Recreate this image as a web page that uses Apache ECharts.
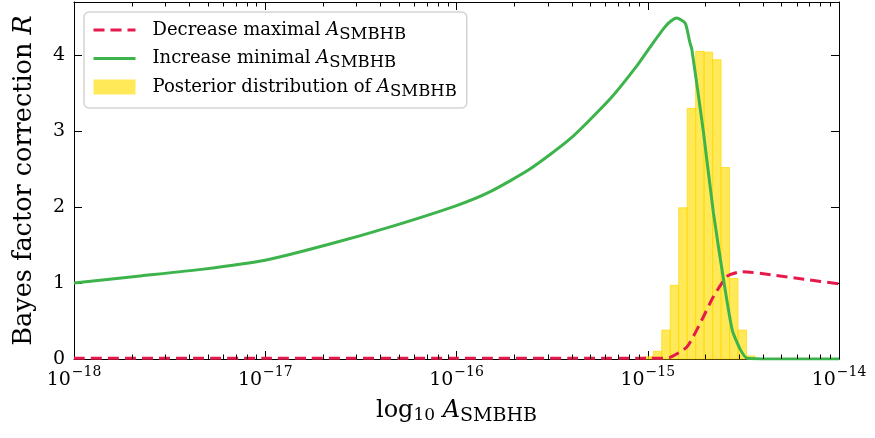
<!DOCTYPE html>
<html>
<head>
<meta charset="utf-8">
<script src="https://cdn.jsdelivr.net/npm/echarts@6/dist/echarts.min.js"></script>
<style>html,body{margin:0;padding:0;background:#fff}#c{width:875px;height:438px}</style>
</head>
<body>
<div id="c"></div>
<script>
// x values are log10(A_SMBHB)
const xTickVals = [-18, -17, -16, -15, -14];
const xTickLabels = ['−18', '−17', '−16', '−15', '−14'];
const yTickVals = [0, 1, 2, 3, 4];

const greenX = [-18.0, -17.667, -17.333, -17.0, -16.667, -16.333, -16.0, -15.826, -15.616, -15.405, -15.195, -15.054, -14.984, -14.914, -14.879, -14.849, -14.804, -14.781, -14.769, -14.709, -14.657, -14.604, -14.558, -14.515, -14.479, -14.3, -14.0];
const greenY = [1.0, 1.09, 1.18, 1.30, 1.51, 1.75, 2.02, 2.20, 2.50, 2.90, 3.43, 3.87, 4.12, 4.36, 4.45, 4.49, 4.42, 4.18, 4.07, 2.99, 1.93, 1.05, 0.38, 0.12, 0.01, 0.0, 0.0];

const redX = [-18.0, -17.0, -16.0, -15.2, -14.984, -14.93, -14.883, -14.795, -14.716, -14.657, -14.584, -14.51, -14.357, -14.183, -14.0];
const redY = [0.01, 0.01, 0.01, 0.01, 0.01, 0.01, 0.02, 0.16, 0.52, 0.82, 1.09, 1.15, 1.11, 1.05, 0.99];

const binEdges = [-15.0153, -14.971, -14.9267, -14.8824, -14.8381, -14.7938, -14.7495, -14.7052, -14.6609, -14.6166, -14.5723, -14.528, -14.4837, -14.4394];
const binHeights = [0.03, 0.10, 0.38, 0.97, 1.99, 3.30, 4.05, 4.04, 3.94, 2.52, 1.06, 0.38, 0.04];

const minorTicks = [];
for (let d = -18; d < -14; d++) for (let k = 2; k <= 9; k++) minorTicks.push(d + Math.log10(k));

const FONT = 'DejaVu Serif';
const RED = '#e6194B', GREEN = '#3cb44b', YELLOW = 'rgba(255,225,25,0.72)';
const nameDec = 'Decrease maximal A_SMBHB';
const nameInc = 'Increase minimal A_SMBHB';
const namePost = 'Posterior distribution of A_SMBHB';
const legendPrefix = {};
legendPrefix[nameDec] = 'Decrease maximal ';
legendPrefix[nameInc] = 'Increase minimal ';
legendPrefix[namePost] = 'Posterior distribution of ';

const histData = binHeights.map((h, i) => [binEdges[i], binEdges[i + 1], h]);

const chart = echarts.init(document.getElementById('c'), null, {renderer: 'canvas'});
const tickMap = {};
xTickVals.forEach((v, i) => tickMap[v] = xTickLabels[i]);

const option = {
  animation: false,
  backgroundColor: '#fff',
  textStyle: {fontFamily: FONT, color: '#000'},
  grid: {left: 74, right: 36, top: 2, bottom: 79, containLabel: false},
  legend: {
    orient: 'vertical', left: 84, top: 12,
    padding: [9, 10, 8, 8],
    itemGap: 6.5, itemWidth: 42, itemHeight: 15,
    backgroundColor: 'rgba(255,255,255,0.85)',
    borderColor: '#d4d4d4', borderWidth: 1.5, borderRadius: 5,
    data: [
      {name: nameDec, itemStyle: {opacity: 0}, lineStyle: {width: 3, type: [11, 6], color: RED}},
      {name: nameInc, itemStyle: {opacity: 0}, lineStyle: {width: 3, color: GREEN}},
      {name: namePost, icon: 'rect', itemStyle: {color: YELLOW}}
    ],
    formatter: n => '{t|' + legendPrefix[n] + '}{i|A}{s|SMBHB}',
    textStyle: {
      fontFamily: FONT, fontSize: 18, color: '#000',
      rich: {
        t: {fontFamily: FONT, fontSize: 18, padding: [0, 0, 0, 12]},
        i: {fontFamily: FONT, fontSize: 18, fontStyle: 'italic'},
        s: {fontFamily: FONT, fontSize: 16.5, verticalAlign: 'top', padding: [9, 0, 0, 0]}
      }
    }
  },
  xAxis: [{
    type: 'value', min: -18, max: -14, interval: 1,
    position: 'bottom',
    name: '{r|log}{sb|10} {i|A}{s|SMBHB}',
    nameLocation: 'middle', nameGap: 36,
    nameTextStyle: {
      fontFamily: FONT, fontSize: 24, color: '#000',
      rich: {
        r: {fontFamily: FONT, fontSize: 24},
        sb: {fontFamily: FONT, fontSize: 17, verticalAlign: 'top', padding: [12, 0, 0, 0]},
        i: {fontFamily: FONT, fontSize: 24, fontStyle: 'italic'},
        s: {fontFamily: FONT, fontSize: 19, verticalAlign: 'top', padding: [12, 0, 0, 0]}
      }
    },
    axisLine: {show: true, onZero: false, lineStyle: {color: '#000', width: 1}},
    axisTick: {show: true, inside: true, length: 8, lineStyle: {color: '#000'}},
    splitLine: {show: false},
    axisLabel: {
      margin: 6, color: '#000',
      formatter: v => '{b|10}{e|' + tickMap[v] + '}',
      rich: {
        b: {fontFamily: FONT, fontSize: 19, padding: [6, 0, 0, 0]},
        e: {fontFamily: FONT, fontSize: 14, verticalAlign: 'top', padding: [0, 0, 0, 1]}
      }
    }
  }, {
    type: 'value', min: -18, max: -14, interval: 1,
    position: 'top',
    axisLine: {show: true, onZero: false, lineStyle: {color: '#000', width: 1}},
    axisTick: {show: true, inside: true, length: 8, lineStyle: {color: '#000'}},
    axisLabel: {show: false}, splitLine: {show: false}
  }],
  yAxis: [{
    type: 'value', min: 0, max: 4.7, interval: 1,
    position: 'left',
    name: 'Bayes factor correction {i|R}',
    nameLocation: 'middle', nameRotate: 90, nameGap: 37,
    nameTextStyle: {
      fontFamily: FONT, fontSize: 25.5, color: '#000',
      rich: {i: {fontFamily: FONT, fontSize: 25.5, fontStyle: 'italic'}}
    },
    axisLine: {show: true, onZero: false, lineStyle: {color: '#000', width: 1}},
    axisTick: {show: true, inside: true, length: 8, lineStyle: {color: '#000'}},
    splitLine: {show: false},
    axisLabel: {margin: 9, fontFamily: FONT, fontSize: 19, color: '#000', showMaxLabel: false,
      formatter: v => (yTickVals.indexOf(v) >= 0 ? String(v) : '')}
  }, {
    type: 'value', min: 0, max: 4.7, interval: 1,
    position: 'right',
    axisLine: {show: true, onZero: false, lineStyle: {color: '#000', width: 1}},
    axisTick: {show: true, inside: true, length: 8, lineStyle: {color: '#000'}},
    axisLabel: {show: false}, splitLine: {show: false}
  }],
  series: [{
    name: namePost,
    type: 'custom',
    xAxisIndex: 0, yAxisIndex: 0,
    itemStyle: {color: YELLOW},
    data: histData,
    encode: {x: [0, 1], y: 2},
    renderItem: (params, api) => {
      const p0 = api.coord([api.value(0), api.value(2)]);
      const p1 = api.coord([api.value(1), 0]);
      return {
        type: 'rect',
        shape: {x: p0[0], y: p0[1], width: p1[0] - p0[0], height: p1[1] - p0[1]},
        style: {fill: YELLOW, stroke: 'rgba(255,215,0,0.7)', lineWidth: 1}
      };
    },
    z: 1
  }, {
    name: nameDec,
    type: 'line',
    xAxisIndex: 0, yAxisIndex: 0,
    data: redX.map((x, i) => [x, redY[i]]),
    showSymbol: false, symbol: 'none',
    smooth: 0.2,
    color: RED,
    lineStyle: {color: RED, width: 3, type: [11, 6]},
    z: 3
  }, {
    name: nameInc,
    type: 'line',
    xAxisIndex: 0, yAxisIndex: 0,
    data: greenX.map((x, i) => [x, greenY[i]]),
    showSymbol: false, symbol: 'none',
    smooth: 0.2,
    color: GREEN,
    lineStyle: {color: GREEN, width: 3},
    z: 4
  }, {
    name: 'minorTicks',
    type: 'custom',
    xAxisIndex: 0, yAxisIndex: 0,
    silent: true,
    data: minorTicks.map(v => [v, 0]),
    encode: {x: 0, y: 1},
    renderItem: (params, api) => {
      const p = api.coord([api.value(0), 0]);
      const cs = params.coordSys;
      const x = Math.round(p[0]) + 0.5;
      return {
        type: 'group',
        children: [
          {type: 'line', shape: {x1: x, y1: cs.y + cs.height, x2: x, y2: cs.y + cs.height - 4.5}, style: {stroke: '#000', lineWidth: 1}},
          {type: 'line', shape: {x1: x, y1: cs.y, x2: x, y2: cs.y + 4.5}, style: {stroke: '#000', lineWidth: 1}}
        ]
      };
    },
    z: 5
  }]
};
chart.setOption(option);
</script>
</body>
</html>
